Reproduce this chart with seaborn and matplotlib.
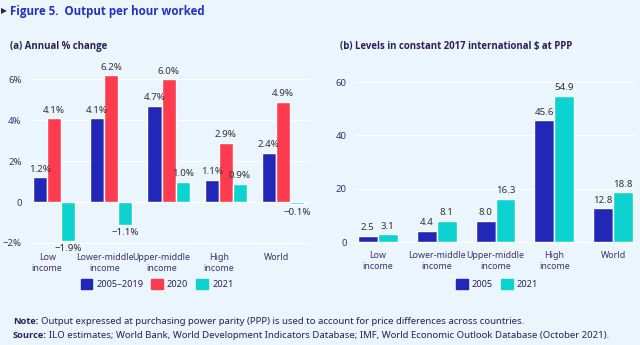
import numpy as np
import pandas as pd
import matplotlib
matplotlib.use("Agg")
import matplotlib.pyplot as plt
import seaborn as sns
from matplotlib.patches import Patch

# ---- data -------------------------------------------------------------
groups = ["Low\nincome", "Lower-middle\nincome", "Upper-middle\nincome",
          "High\nincome", "World"]

growth_series = ["2005–2019", "2020", "2021"]
growth_2005_2019 = [1.2, 4.1, 4.7, 1.1, 2.4]
growth_2020 = [4.1, 6.2, 6.0, 2.9, 4.9]
growth_2021 = [-1.9, -1.1, 1.0, 0.9, -0.1]
growth_ticks = [-2, 0, 2, 4, 6]
growth_tick_labels = ["−2%", "0", "2%", "4%", "6%"]

level_series = ["2005", "2021"]
level_2005 = [2.5, 4.4, 8.0, 45.6, 12.8]
level_2021 = [3.1, 8.1, 16.3, 54.9, 18.8]
level_ticks = [0, 20, 40, 60]
level_tick_labels = ["0", "20", "40", "60"]

# ---- style ------------------------------------------------------------
BG = "#EBF5FD"
BLUE, RED, CYAN = "#2128B8", "#FF3B50", "#0CD3CF"
NAVY = "#2B1F5C"
TICK = "#3D3170"
VALUE = "#333333"
TITLE_BLUE = "#2530C4"

sns.set_theme(style="white")
plt.rcParams["font.family"] = ["Noto Sans", "DejaVu Sans"]
BOLD_FAMILY = ["Open Sans", "Lato", "DejaVu Sans"]

W, H = 640, 345
fig = plt.figure(figsize=(W / 100, H / 100), dpi=100, facecolor=BG)


def px_axes(x0, y_top, x1, y_bot):
    return fig.add_axes([x0 / W, 1 - y_bot / H, (x1 - x0) / W, (y_bot - y_top) / H])


def fmt(v, suffix=""):
    s = f"{abs(v):.1f}{suffix}"
    return ("−" + s) if v < 0 else s


def style_axes(ax, ticks, tick_labels, ylim, xlim, xtick_pos):
    ax.set_facecolor(BG)
    for sp in ax.spines.values():
        sp.set_visible(False)
    ax.set_ylim(*ylim)
    ax.set_xlim(*xlim)
    ax.set_yticks(ticks)
    ax.set_yticklabels(tick_labels)
    ax.set_xticks(xtick_pos)
    ax.set_xticklabels(groups)
    ax.tick_params(axis="both", length=0, colors=TICK)
    ax.tick_params(axis="x", pad=4, labelsize=6.4)
    ax.tick_params(axis="y", pad=6, labelsize=6.9)
    ax.set_xlabel("")
    ax.set_ylabel("")
    ax.yaxis.grid(True, color="white", lw=0.9)
    ax.set_axisbelow(True)
    for t in ax.get_xticklabels():
        t.set_linespacing(1.35)


# ---- panel (a): annual % change --------------------------------------
growth = pd.DataFrame({
    "group": groups * 3,
    "series": np.repeat(growth_series, len(groups)),
    "value": growth_2005_2019 + growth_2020 + growth_2021,
})
ax1 = px_axes(30, 64, 310, 247)
sns.barplot(data=growth, x="group", y="value", hue="series", order=groups,
            hue_order=growth_series, palette=[BLUE, RED, CYAN], width=0.74,
            saturation=1, errorbar=None, legend=False, ax=ax1)
style_axes(ax1, growth_ticks, growth_tick_labels, (-2.2, 6.75),
           (-0.42, 4.47), np.arange(len(groups)) - 0.12)
for cont in ax1.containers:
    vals = [b.get_height() for b in cont]
    ax1.bar_label(cont, labels=[fmt(v, "%") for v in vals], padding=2.5,
                  fontsize=7.0, color=VALUE)

# ---- panel (b): levels ------------------------------------------------
levels = pd.DataFrame({
    "group": groups * 2,
    "series": np.repeat(level_series, len(groups)),
    "value": level_2005 + level_2021,
})
ax2 = px_axes(355, 70, 636, 245)
sns.barplot(data=levels, x="group", y="value", hue="series", order=groups,
            hue_order=level_series, palette=[BLUE, CYAN], width=0.68,
            saturation=1, errorbar=None, legend=False, ax=ax2)
style_axes(ax2, level_ticks, level_tick_labels, (-1.0, 64.5),
           (-0.39, 4.39), np.arange(len(groups)))
for cont in ax2.containers:
    vals = [b.get_height() for b in cont]
    ax2.bar_label(cont, labels=[fmt(v) for v in vals], padding=2.5,
                  fontsize=7.0, color=VALUE)

# ---- legends ----------------------------------------------------------
leg_kw = dict(loc="center", frameon=False, fontsize=6.6, handlelength=1.3,
              handleheight=1.3, handletextpad=0.4, columnspacing=0.9,
              labelcolor=NAVY, borderaxespad=0)
fig.legend(handles=[Patch(color=c, label=l) for c, l in
                    zip([BLUE, RED, CYAN], growth_series)],
           ncol=3, bbox_to_anchor=(157 / W, 1 - 284 / H), **leg_kw)
fig.legend(handles=[Patch(color=c, label=l) for c, l in
                    zip([BLUE, CYAN], level_series)],
           ncol=2, bbox_to_anchor=(497 / W, 1 - 284 / H), **leg_kw)

# ---- titles -----------------------------------------------------------
fig.text(0.5 / W, 1 - 11 / H, "▶", fontsize=5.5, color=NAVY, va="center",
         ha="left", family="DejaVu Sans")
fig.text(10 / W, 1 - 11 / H, "Figure 5.  Output per hour worked",
         fontsize=8.3, fontweight="bold", color=TITLE_BLUE, va="center",
         family=BOLD_FAMILY)
fig.text(10 / W, 1 - 47 / H, "(a) Annual % change", fontsize=6.9,
         fontweight="bold", color=NAVY, va="center", family=BOLD_FAMILY)
fig.text(340 / W, 1 - 47 / H, "(b) Levels in constant 2017 international $ at PPP",
         fontsize=6.9, fontweight="bold", color=NAVY, va="center",
         family=BOLD_FAMILY)

# ---- footnotes --------------------------------------------------------
renderer = fig.canvas.get_renderer()


def footnote(y_px, head, body):
    t = fig.text(13 / W, 1 - y_px / H, head, fontsize=6.7, fontweight="bold",
                 color=NAVY, va="center", family=BOLD_FAMILY)
    bb = t.get_window_extent(renderer=renderer)
    fig.text(bb.x1 / W + 2.5 / W, 1 - y_px / H, body, fontsize=6.9,
             color=NAVY, va="center")


footnote(322, "Note:", "Output expressed at purchasing power parity (PPP) is used "
         "to account for price differences across countries.")
footnote(336, "Source:", "ILO estimates; World Bank, World Development Indicators "
         "Database; IMF, World Economic Outlook Database (October 2021).")

fig.savefig("out.png", dpi=100, facecolor=BG)
